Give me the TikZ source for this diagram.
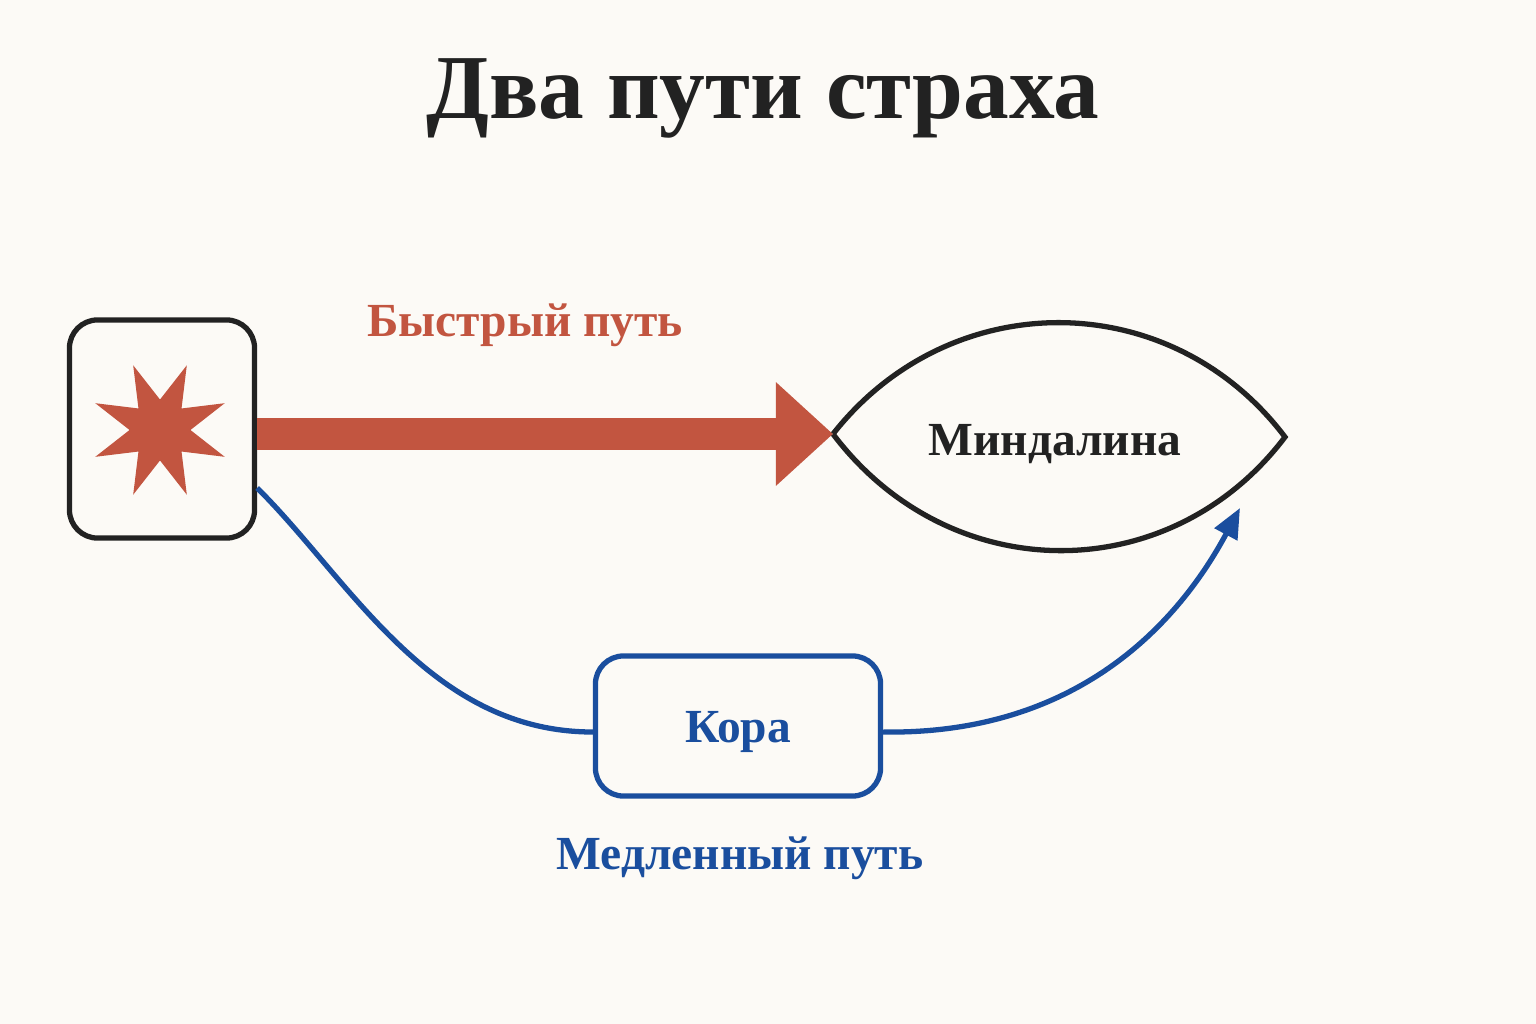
\documentclass[tikz,border=0pt]{standalone}
\usepackage{fontspec}
\setmainfont{Liberation Serif}
\usetikzlibrary{shapes.geometric,arrows.meta,positioning}
\definecolor{fastred}{HTML}{C25540}
\definecolor{slowblue}{HTML}{1A4E9E}
\definecolor{paper}{HTML}{FCFAF6}
\definecolor{ink}{HTML}{222222}
\tikzset{
  frame/.style={draw=ink,line width=1.5pt,rounded corners=8pt},
  bluebox/.style={draw=slowblue,line width=1.5pt,rounded corners=8pt},
  lbl/.style={font=\bfseries\fontsize{13.5}{16}\selectfont}
}
\begin{document}
\begin{tikzpicture}[x=0.01cm,y=-0.01cm]
  \fill[paper] (0,0) rectangle (1536,1024);
  \node[font=\bfseries\fontsize{26}{31}\selectfont,text=ink] (title) at (763,98) {Два пути страха};
  % stimulus
  \node[frame,minimum width=1.85cm,minimum height=2.18cm] (stim) at (162,429) {};
  \node[star,star points=8,star point ratio=2.3,fill=fastred,minimum size=1.4cm,inner sep=0pt,rotate=22.5] (burst) at (160,430) {};
  % amygdala
  \coordinate (amL) at (833,434);
  \coordinate (amR) at (1285,437);
  \draw[ink,line width=1.5pt] (amL) .. controls (950,285) and (1170,285) .. (amR)
     .. controls (1170,589) and (950,589) .. (amL);
  \node[lbl,text=ink] (amyg) at (1055,444) {Миндалина};
  % fast path
  \draw[fastred,line width=0.32cm,-{Triangle[length=0.57cm,width=1cm]}] (stim.east |- amL) -- (amL);
  \node[lbl,text=fastred] (fast) at (525,325) {Быстрый путь};
  % slow path
  \node[bluebox,minimum width=2.85cm,minimum height=1.4cm,lbl,text=slowblue] (cortex) at (738,726) {};
  \node[lbl,text=slowblue] (kora) at (738,732) {Кора};
  \node[lbl,text=slowblue] (slow) at (740,858) {Медленный путь};
  \coordinate (tip) at (1240,508);
  \draw[slowblue,line width=1.5pt] (stim.east |- 0,488) .. controls (350,580) and (430,732) .. (cortex.west |- 0,732);
  \draw[slowblue,line width=1.5pt,-{Triangle[length=0.3cm,width=0.25cm]}] (cortex.east |- 0,732) .. controls (1080,735) and (1180,620) .. (tip);
\end{tikzpicture}
\end{document}
